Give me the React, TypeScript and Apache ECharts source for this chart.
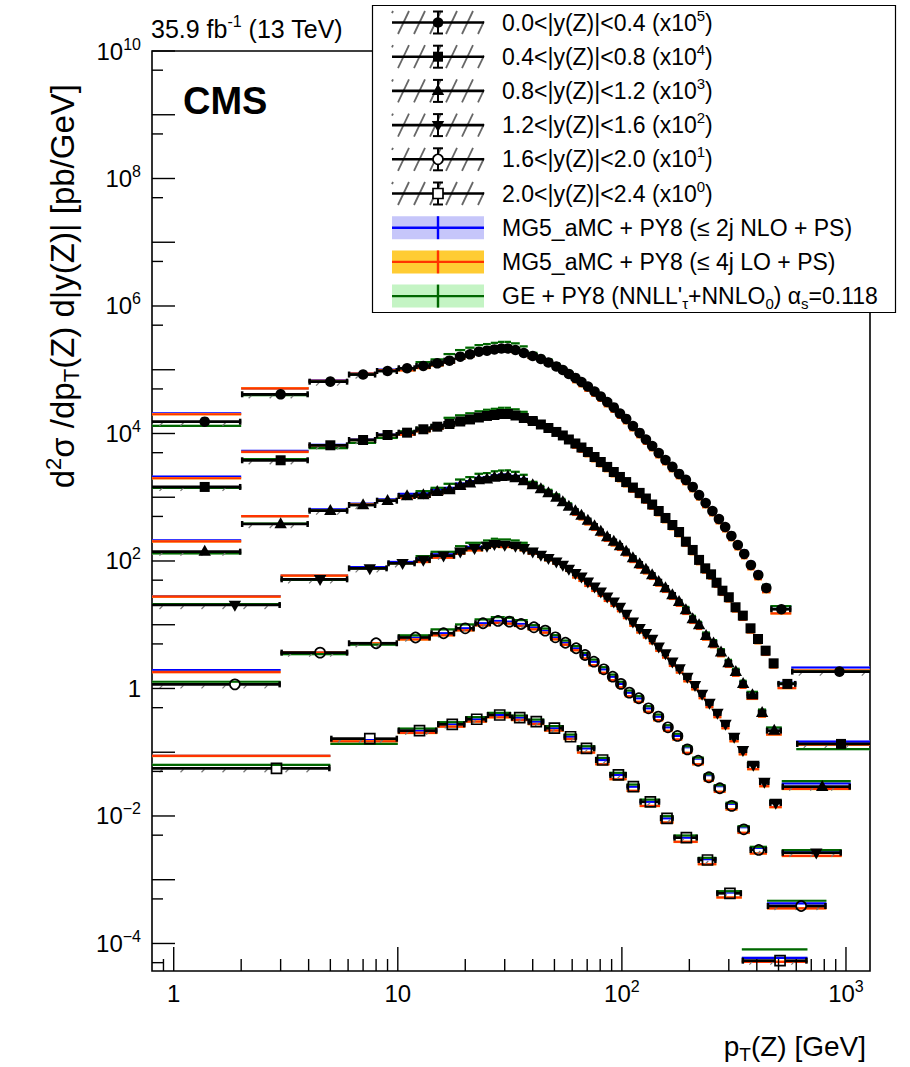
import { useEffect, useRef } from 'react';
import * as echarts from 'echarts';

const FONT = '"Liberation Sans", Arial, Helvetica, sans-serif';

// Axis ranges: p_T(Z) in GeV, cross section in pb/GeV
const PT_MIN = 0.8;
const PT_MAX = 1280;
const XS_MIN = 3.7e-5;
const XS_MAX = 1e10;

const RAPIDITY_BINS = [
  '0.0<|y(Z)|<0.4',
  '0.4<|y(Z)|<0.8',
  '0.8<|y(Z)|<1.2',
  '1.2<|y(Z)|<1.6',
  '1.6<|y(Z)|<2.0',
  '2.0<|y(Z)|<2.4',
];
// Each rapidity bin is multiplied by 10^k for display
const SCALE_EXPONENTS = [5, 4, 3, 2, 1, 0];
const MARKER_KINDS = ['circle', 'square', 'triangle', 'triangleDown', 'openCircle', 'openSquare'];

// Bin edges (GeV) and measured cross sections (pb/GeV) per rapidity bin
const PT_EDGES_Y1 = [0.75, 2, 4, 6, 8, 10, 12, 14, 16, 18, 20, 22, 24, 26, 28, 30, 32, 35, 38, 42, 45, 49, 53, 56, 60, 64, 68, 73, 78, 83, 89, 95, 101, 108, 116, 124, 132, 141, 151, 162, 174, 186, 200, 214, 228, 245, 262, 280, 298, 318, 340, 363, 390, 422, 460, 570, 1300];
const XSEC_Y1 = [0.153, 0.412, 0.650, 0.841, 0.955, 1.054, 1.146, 1.262, 1.387, 1.603, 1.746, 1.919, 1.991, 2.080, 2.153, 2.153, 2.042, 1.832, 1.644, 1.475, 1.300, 1.125, 0.991, 0.857, 0.743, 0.643, 0.546, 0.456, 0.380, 0.312, 0.256, 0.206, 0.169, 0.131, 0.102, 0.0805, 0.0637, 0.0494, 0.0384, 0.0299, 0.0232, 0.0187, 0.0145, 0.0108, 0.00813, 0.00608, 0.00456, 0.00341, 0.00247, 0.00178, 0.00129, 8.65e-4, 6.03e-4, 3.77e-4, 1.75e-4, 1.84e-5];

const PT_EDGES_Y2 = [0.75, 2, 4, 6, 8, 10, 12, 14, 16, 18, 20, 22, 24, 26, 28, 30, 32, 35, 38, 42, 45, 49, 53, 56, 60, 64, 68, 73, 78, 83, 89, 95, 101, 108, 116, 124, 132, 141, 151, 162, 174, 186, 200, 214, 228, 243, 257, 272, 290, 310, 333, 360, 390, 420, 456, 495, 600, 1300];
const XSEC_Y2 = [0.145, 0.380, 0.653, 0.791, 0.946, 1.030, 1.164, 1.279, 1.409, 1.542, 1.660, 1.782, 1.884, 1.950, 2.023, 2.023, 1.915, 1.750, 1.570, 1.384, 1.219, 1.057, 0.931, 0.805, 0.697, 0.603, 0.513, 0.428, 0.357, 0.299, 0.249, 0.208, 0.173, 0.142, 0.117, 0.0955, 0.0769, 0.0608, 0.0473, 0.0367, 0.0285, 0.0201, 0.0149, 0.0104, 0.00767, 0.00618, 0.00457, 0.00342, 0.00270, 0.00188, 0.00139, 8.79e-4, 5.97e-4, 3.92e-4, 2.48e-4, 1.18e-4, 1.35e-5];

const PT_EDGES_Y3 = [0.75, 2, 4, 6, 8, 10, 12, 14, 16, 18, 20, 22, 24, 26, 28, 30, 32, 35, 38, 42, 45, 49, 53, 56, 60, 64, 68, 73, 78, 83, 89, 95, 101, 108, 116, 124, 132, 141, 151, 162, 174, 186, 200, 214, 228, 247, 266, 288, 310, 335, 360, 405, 440, 517, 1050];
const XSEC_Y3 = [0.140, 0.380, 0.615, 0.755, 0.883, 1.047, 1.084, 1.222, 1.300, 1.517, 1.656, 1.866, 1.914, 2.042, 2.099, 2.113, 2.004, 1.799, 1.556, 1.346, 1.167, 0.991, 0.841, 0.716, 0.608, 0.518, 0.432, 0.354, 0.290, 0.238, 0.202, 0.172, 0.141, 0.111, 0.0897, 0.0736, 0.0603, 0.0473, 0.0377, 0.0293, 0.0228, 0.0170, 0.0123, 0.00991, 0.00673, 0.00512, 0.00370, 0.00251, 0.00182, 0.00118, 7.91e-4, 4.17e-4, 2.18e-4, 2.88e-5];

const PT_EDGES_Y4 = [0.75, 3, 6, 9, 12, 14, 18, 20, 24, 26, 28, 32, 35, 38, 42, 45, 49, 53, 56, 60, 64, 68, 73, 78, 83, 89, 95, 101, 108, 116, 124, 132, 141, 151, 162, 174, 188, 204, 220, 236, 256, 278, 302, 332, 362, 410, 455, 517, 957];
const XSEC_Y4 = [0.204, 0.516, 0.767, 0.920, 1.038, 1.211, 1.400, 1.581, 1.718, 1.828, 1.782, 1.718, 1.581, 1.400, 1.242, 1.102, 0.975, 0.865, 0.750, 0.641, 0.568, 0.473, 0.395, 0.330, 0.275, 0.230, 0.190, 0.148, 0.112, 0.0879, 0.0734, 0.0597, 0.0453, 0.0356, 0.0263, 0.0207, 0.0151, 0.0113, 0.00820, 0.00593, 0.00413, 0.00277, 0.00173, 0.00108, 6.31e-4, 3.41e-4, 1.60e-4, 2.65e-5];

const PT_EDGES_Y5 = [0.75, 3, 6, 10, 14, 18, 22, 26, 30, 33, 38, 43, 48, 53, 59, 66, 71, 79, 87, 95, 103, 113, 125, 138, 153, 168, 186, 206, 232, 257, 290, 328, 372, 444, 818];
const XSEC_Y5 = [0.116, 0.365, 0.512, 0.631, 0.735, 0.879, 1.054, 1.146, 1.117, 1.028, 0.912, 0.807, 0.635, 0.522, 0.428, 0.335, 0.263, 0.200, 0.153, 0.118, 0.0859, 0.0702, 0.0489, 0.0361, 0.0246, 0.0180, 0.0111, 0.00736, 0.00405, 0.00272, 0.00144, 6.18e-4, 2.93e-4, 3.87e-5];

const PT_EDGES_Y6 = [0.75, 5, 10, 15, 20, 25, 32, 38, 45, 55, 63, 76, 88, 105, 120, 148, 170, 218, 264, 343, 673];
const XSEC_Y6 = [0.0560, 0.163, 0.218, 0.274, 0.329, 0.384, 0.348, 0.301, 0.238, 0.175, 0.115, 0.0755, 0.0440, 0.0288, 0.0167, 0.00920, 0.00457, 0.00204, 6.12e-4, 5.37e-5];

const PT_EDGES = [PT_EDGES_Y1, PT_EDGES_Y2, PT_EDGES_Y3, PT_EDGES_Y4, PT_EDGES_Y5, PT_EDGES_Y6];
const XSEC = [XSEC_Y1, XSEC_Y2, XSEC_Y3, XSEC_Y4, XSEC_Y5, XSEC_Y6];

// Prediction / data ratios, as [from p_T, ratio] steps, per rapidity bin
const NLO_RATIO = [
  [[0, 1.35], [2, 1.24], [4, 1.05], [10, 1.0], [60, 0.97], [186, 1.05], [340, 1.12], [570, 1.16]],
  [[0, 1.45], [2, 1.4], [4, 1.02], [10, 1.0], [60, 0.97], [186, 1.04], [600, 1.09]],
  [[0, 1.5], [2, 1.33], [4, 1.05], [10, 1.08], [60, 1.02], [186, 1.1], [517, 1.13]],
  [[0, 1.38], [3, 1.14], [6, 1.05], [12, 1.05], [60, 1.02], [188, 1.1], [517, 1.03]],
  [[0, 1.68], [3, 1.0], [10, 1.0], [60, 1.0], [186, 1.08], [444, 1.1]],
  [[0, 1.56], [5, 0.95], [10, 1.0], [218, 1.03], [343, 1.11]],
];
const LO_RATIO = [
  [[0, 1.31], [2, 1.24], [4, 1.03], [10, 0.93], [60, 0.86], [570, 1.04]],
  [[0, 1.37], [2, 1.35], [4, 1.0], [10, 0.93], [60, 0.86], [600, 0.97]],
  [[0, 1.45], [2, 1.33], [4, 1.02], [10, 0.94], [60, 0.87], [517, 0.92]],
  [[0, 1.35], [3, 1.14], [6, 1.0], [12, 0.93], [60, 0.86], [517, 0.89]],
  [[0, 1.56], [3, 1.0], [10, 0.93], [60, 0.88], [444, 0.92]],
  [[0, 1.56], [5, 0.91], [10, 0.92], [63, 0.86], [343, 0.96]],
];
const GE_RATIO = [
  [[0, 0.86], [2, 0.97], [4, 1.0], [12, 1.15], [16, 1.27], [38, 1.12], [60, 1.03], [422, 1.12], [570, 1.0]],
  [[0, 0.97], [2, 1.04], [4, 0.9], [10, 1.05], [16, 1.25], [38, 1.12], [60, 1.02], [600, 0.83]],
  [[0, 0.94], [2, 1.02], [4, 1.0], [12, 1.15], [16, 1.25], [38, 1.12], [60, 1.05], [186, 1.12], [517, 1.22]],
  [[0, 1.03], [3, 0.98], [6, 1.0], [12, 1.15], [18, 1.22], [38, 1.1], [60, 1.05], [188, 1.1], [517, 1.1]],
  [[0, 1.1], [3, 0.95], [10, 1.08], [14, 1.15], [38, 1.08], [186, 1.12], [444, 1.21]],
  [[0, 1.13], [5, 0.83], [10, 1.08], [343, 1.5]],
];

const MODELS = [
  { label: 'MG5_aMC + PY8 (≤ 2j NLO + PS)', line: '#0000ff', band: '#c6c6fa', half: 0.035, ratios: NLO_RATIO },
  { label: 'MG5_aMC + PY8 (≤ 4j LO + PS)', line: '#ff3300', band: '#ffcc33', half: 0.045, ratios: LO_RATIO },
  { label: "GE + PY8 (NNLL'{sub|τ}+NNLO{sub|0}) α{sub|s}=0.118", line: '#006600', band: '#c4f4c4', half: 0.04, ratios: GE_RATIO },
];

// Axis ticks
const X_MAJOR_TICKS = [1, 10, 100, 1000];
const X_TICK_LABELS = ['1', '10', '10{sup|2}', '10{sup|3}'];
const X_MINOR_TICKS = [0.9, 2, 3, 4, 5, 6, 7, 8, 9, 20, 30, 40, 50, 60, 70, 80, 90, 200, 300, 400, 500, 600, 700, 800, 900];
const Y_MAJOR_TICKS = [1e-4, 1e-3, 1e-2, 1e-1, 1, 1e1, 1e2, 1e3, 1e4, 1e5, 1e6, 1e7, 1e8, 1e9, 1e10];
const Y_MINOR_TICKS = [5e-5, 5e-4, 5e-3, 5e-2, 0.5, 5, 50, 5e2, 5e3, 5e4, 5e5, 5e6, 5e7, 5e8, 5e9];
const Y_LABEL_VALUES = [1e10, 1e8, 1e6, 1e4, 1e2, 1, 1e-2, 1e-4];
const Y_TICK_LABELS = ['10{sup|10}', '10{sup|8}', '10{sup|6}', '10{sup|4}', '10{sup|2}', '1', '10{sup|−2}', '10{sup|−4}'];

function ratioFor(table: number[][], lo: number) {
  let r = table[0][1];
  for (const [from, val] of table) if (lo >= from) r = val;
  return r;
}

function dataRows(i: number) {
  const edges = PT_EDGES[i];
  const k = Math.pow(10, SCALE_EXPONENTS[i]);
  return XSEC[i].map((v, j) => [edges[j], edges[j + 1], (edges[j] + edges[j + 1]) / 2, v * k]);
}

function predRows(i: number, tables: number[][][]) {
  const edges = PT_EDGES[i];
  const k = Math.pow(10, SCALE_EXPONENTS[i]);
  return XSEC[i].map((v, j) => [edges[j], edges[j + 1], v * k * ratioFor(tables[i], edges[j])]);
}

const MARKER_R = 5.3;

function markerEl(kind: string, x: number, y: number): any {
  const s = MARKER_R;
  switch (kind) {
    case 'circle':
      return { type: 'circle', shape: { cx: x, cy: y, r: s }, style: { fill: '#000' } };
    case 'square':
      return { type: 'rect', shape: { x: x - 5, y: y - 5, width: 10, height: 10 }, style: { fill: '#000' } };
    case 'triangle':
      return { type: 'polygon', shape: { points: [[x, y - 6.8], [x + 6.2, y + 4.2], [x - 6.2, y + 4.2]] }, style: { fill: '#000' } };
    case 'triangleDown':
      return { type: 'polygon', shape: { points: [[x, y + 6.8], [x + 6.2, y - 4.2], [x - 6.2, y - 4.2]] }, style: { fill: '#000' } };
    case 'openCircle':
      return { type: 'circle', shape: { cx: x, cy: y, r: 5 }, style: { fill: 'none', stroke: '#000', lineWidth: 1.7 } };
    default:
      return { type: 'rect', shape: { x: x - 5, y: y - 5, width: 10, height: 10 }, style: { fill: 'none', stroke: '#000', lineWidth: 1.7 } };
  }
}

function hline(x1: number, x2: number, y: number, stroke: string, lineWidth: number): any {
  return { type: 'line', shape: { x1, y1: y, x2, y2: y }, style: { stroke, lineWidth } };
}
function vline(x: number, y1: number, y2: number, stroke: string, lineWidth: number): any {
  return { type: 'line', shape: { x1: x, y1, x2: x, y2 }, style: { stroke, lineWidth } };
}

function dataRenderer(kind: string) {
  return (params: any, api: any) => {
    const cs = params.coordSys;
    const lo = api.value(0), hi = api.value(1), c = api.value(2), v = api.value(3);
    const pa = api.coord([lo, v]);
    const pb = api.coord([hi, v]);
    const pc = api.coord([c, v]);
    const y = pa[1];
    const left = cs.x, right = cs.x + cs.width;
    const x0 = Math.max(pa[0], left), x1 = Math.min(pb[0], right);
    const children: any[] = [];
    // hatched uncertainty marks along the bin
    for (let hx = x0 + 9; hx < x1 - 4; hx += 21) {
      children.push({ type: 'line', shape: { x1: hx - 1.5, y1: y + 4, x2: hx + 1.5, y2: y + 1 }, style: { stroke: '#777', lineWidth: 1.2 } });
    }
    const open = kind.startsWith('open');
    const r = 5;
    if (open) {
      if (pc[0] - r > x0) children.push(hline(x0, pc[0] - r, y, '#000', 2.7));
      if (x1 > pc[0] + r) children.push(hline(pc[0] + r, x1, y, '#000', 2.7));
    } else {
      children.push(hline(x0, x1, y, '#000', 2.7));
    }
    if (pa[0] >= left) children.push(vline(pa[0] + 1, y - 3, y + 3, '#000', 2.5));
    if (pb[0] <= right) children.push(vline(pb[0] - 1, y - 3, y + 3, '#000', 2.5));
    children.push(markerEl(kind, pc[0], y));
    return { type: 'group', children };
  };
}

function predRenderer(line: string, band: string, half: number) {
  return (params: any, api: any) => {
    const cs = params.coordSys;
    const lo = api.value(0), hi = api.value(1), v = api.value(2);
    const pa = api.coord([lo, v]);
    const pb = api.coord([hi, v]);
    const x0 = Math.max(pa[0], cs.x), x1 = Math.min(pb[0], cs.x + cs.width);
    const yt = api.coord([lo, v * (1 + half)])[1];
    const yb = api.coord([lo, v * (1 - half)])[1];
    return {
      type: 'group',
      children: [
        { type: 'rect', shape: { x: x0, y: yt, width: x1 - x0, height: yb - yt }, style: { fill: band } },
        hline(x0, x1, pa[1], line, 2.2),
      ],
    };
  };
}

const SUP24 = { fontSize: 16, lineHeight: 16, verticalAlign: 'top', fontFamily: FONT, fill: '#000' };
const SUP23 = { fontSize: 15, lineHeight: 15, verticalAlign: 'top', fontFamily: FONT, fill: '#000' };
const SUB23 = { fontSize: 15, lineHeight: 15, verticalAlign: 'bottom', fontFamily: FONT, fill: '#000' };
const SUP28 = { fontSize: 19, lineHeight: 19, verticalAlign: 'top', fontFamily: FONT, fill: '#000' };
const SUB28 = { fontSize: 19, lineHeight: 19, verticalAlign: 'bottom', fontFamily: FONT, fill: '#000' };
const SUP33 = { fontSize: 22, lineHeight: 22, verticalAlign: 'top', fontFamily: FONT, fill: '#000' };
const SUB33 = { fontSize: 22, lineHeight: 22, verticalAlign: 'bottom', fontFamily: FONT, fill: '#000' };

function textStyle(text: string, size: number, lh: number, align: string, rich: any, weight = 'normal') {
  return {
    text,
    fontSize: size,
    fontFamily: FONT,
    fontWeight: weight,
    lineHeight: lh,
    fill: '#000',
    align,
    textAlign: align,
    verticalAlign: 'middle',
    textVerticalAlign: 'middle',
    rich,
  };
}

function tickSeries(data: number[][], render: (params: any, api: any) => any) {
  return {
    type: 'custom',
    coordinateSystem: 'cartesian2d',
    data,
    encode: { x: 0, y: 1 },
    renderItem: render,
    silent: true,
    z: 6,
  };
}

// Legend layout
const LEG_X = 372.5, LEG_Y = 5.5, LEG_W = 523, LEG_H = 307;
const ROW_Y0 = 22.5, ROW_STEP = 34.2;
const SYM_X0 = 392, SYM_X1 = 484, SYM_XC = 438, TEXT_X = 502;

function legendElements() {
  const els: any[] = [];
  els.push({ type: 'rect', shape: { x: LEG_X, y: LEG_Y, width: LEG_W, height: LEG_H }, style: { fill: '#fff', stroke: '#000', lineWidth: 1.2 }, z: 100 });
  RAPIDITY_BINS.forEach((name, i) => {
    const yc = ROW_Y0 + i * ROW_STEP;
    // hatching
    for (let x = SYM_X0 - 10; x < SYM_X1; x += 16) {
      let xa = x, ya = yc + 11.5, xb = x + 11, yb = yc - 11.5;
      if (xa < SYM_X0) { const t = (SYM_X0 - x) / 11; xa = SYM_X0; ya = yc + 11.5 - 23 * t; }
      if (xb > SYM_X1) { const t = (SYM_X1 - x) / 11; xb = SYM_X1; yb = yc + 11.5 - 23 * t; }
      if (xb > xa) els.push({ type: 'line', shape: { x1: xa, y1: ya, x2: xb, y2: yb }, style: { stroke: '#666', lineWidth: 1.8 }, z: 101 });
    }
    els.push({ type: 'line', shape: { x1: SYM_X0, y1: yc, x2: SYM_X1, y2: yc }, style: { stroke: '#000', lineWidth: 2.6 }, z: 102 });
    els.push({ type: 'line', shape: { x1: SYM_XC, y1: yc - 11, x2: SYM_XC, y2: yc + 11 }, style: { stroke: '#000', lineWidth: 2 }, z: 102 });
    els.push({ type: 'line', shape: { x1: SYM_XC - 5, y1: yc - 11, x2: SYM_XC + 5, y2: yc - 11 }, style: { stroke: '#000', lineWidth: 2 }, z: 102 });
    els.push({ type: 'line', shape: { x1: SYM_XC - 5, y1: yc + 11, x2: SYM_XC + 5, y2: yc + 11 }, style: { stroke: '#000', lineWidth: 2 }, z: 102 });
    const m = markerEl(MARKER_KINDS[i], SYM_XC, yc);
    if (MARKER_KINDS[i].startsWith('open')) m.style.fill = '#fff';
    els.push({ ...m, z: 103 });
    els.push({ type: 'text', x: TEXT_X, y: yc, style: textStyle(`${name} (x10{sup|${SCALE_EXPONENTS[i]}})`, 23, 30, 'left', { sup: SUP23 }), z: 103 });
  });
  MODELS.forEach((mdl, j) => {
    const yc = ROW_Y0 + (RAPIDITY_BINS.length + j) * ROW_STEP;
    els.push({ type: 'rect', shape: { x: SYM_X0, y: yc - 11.5, width: SYM_X1 - SYM_X0, height: 23 }, style: { fill: mdl.band }, z: 101 });
    els.push({ type: 'line', shape: { x1: SYM_X0, y1: yc, x2: SYM_X1, y2: yc }, style: { stroke: mdl.line, lineWidth: 2.4 }, z: 102 });
    els.push({ type: 'line', shape: { x1: SYM_XC, y1: yc - 11.5, x2: SYM_XC, y2: yc + 11.5 }, style: { stroke: mdl.line, lineWidth: 2.4 }, z: 102 });
    els.push({ type: 'text', x: TEXT_X, y: yc, style: textStyle(mdl.label, 23, 30, 'left', { sub: SUB23, sup: SUP23 }), z: 103 });
  });
  return els;
}

function buildOption(): any {
  const series: any[] = [];
  MODELS.forEach((mdl) => {
    RAPIDITY_BINS.forEach((_, i) => {
      series.push({
        type: 'custom',
        name: mdl.label,
        coordinateSystem: 'cartesian2d',
        data: predRows(i, mdl.ratios),
        encode: { x: 0, y: 2 },
        renderItem: predRenderer(mdl.line, mdl.band, mdl.half),
        silent: true,
        z: 2,
      });
    });
  });
  RAPIDITY_BINS.forEach((name, i) => {
    series.push({
      type: 'custom',
      name,
      coordinateSystem: 'cartesian2d',
      data: dataRows(i),
      encode: { x: 0, y: 3 },
      renderItem: dataRenderer(MARKER_KINDS[i]),
      silent: true,
      z: 3,
    });
  });

  series.push(tickSeries(X_MAJOR_TICKS.map((v) => [v, XS_MIN]), (params: any, api: any) => {
    const p = api.coord([api.value(0), XS_MIN]);
    return {
      type: 'group',
      children: [
        vline(p[0], p[1], p[1] - 24, '#000', 1.4),
        { type: 'text', style: { ...textStyle(X_TICK_LABELS[params.dataIndex], 24, 30, 'center', { sup: SUP24 }), x: p[0], y: p[1] + 22 } },
      ],
    };
  }));
  series.push(tickSeries(X_MINOR_TICKS.map((v) => [v, XS_MIN]), (params: any, api: any) => {
    const p = api.coord([api.value(0), XS_MIN]);
    return vline(p[0], p[1], p[1] - 12, '#000', 1.4);
  }));
  series.push(tickSeries(Y_MAJOR_TICKS.map((v) => [PT_MIN, v]), (params: any, api: any) => {
    const p = api.coord([PT_MIN, api.value(1)]);
    return hline(p[0], p[0] + 23, p[1], '#000', 1.4);
  }));
  series.push(tickSeries(Y_MINOR_TICKS.map((v) => [PT_MIN, v]), (params: any, api: any) => {
    const p = api.coord([PT_MIN, api.value(1)]);
    return hline(p[0], p[0] + 11, p[1], '#000', 1.4);
  }));
  series.push(tickSeries(Y_LABEL_VALUES.map((v) => [PT_MIN, v]), (params: any, api: any) => {
    const p = api.coord([PT_MIN, api.value(1)]);
    return { type: 'text', style: { ...textStyle(Y_TICK_LABELS[params.dataIndex], 24, 30, 'right', { sup: SUP24 }), x: p[0] - 11, y: p[1] } };
  }));

  const graphics: any[] = [
    { type: 'text', x: 151, y: 29, style: textStyle('35.9 fb{sup|-1} (13 TeV)', 25, 32, 'left', { sup: { ...SUP23, fontSize: 16, lineHeight: 16 } }), z: 90 },
    { type: 'text', x: 183, y: 101, style: textStyle('CMS', 38, 44, 'left', {}, 'bold'), z: 90 },
    { type: 'text', x: 866, y: 1046, style: textStyle('p{sub|T}(Z) [GeV]', 28, 36, 'right', { sub: SUB28 }), z: 90 },
    { type: 'text', x: 62, y: 84, rotation: Math.PI / 2, style: textStyle('d{sup|2}σ /dp{sub|T}(Z) d|y(Z)| [pb/GeV]', 33, 40, 'right', { sup: SUP33, sub: SUB33 }), z: 90 },
    ...legendElements(),
  ];

  return {
    animation: false,
    backgroundColor: '#fff',
    grid: { left: 152, right: 40, top: 51, bottom: 96, show: true, borderColor: '#000', borderWidth: 1.6, backgroundColor: 'transparent' },
    xAxis: {
      type: 'log', logBase: 10, min: PT_MIN, max: PT_MAX,
      axisLine: { show: false }, axisTick: { show: false }, axisLabel: { show: false }, splitLine: { show: false }, minorTick: { show: false },
    },
    yAxis: {
      type: 'log', logBase: 10, min: XS_MIN, max: XS_MAX,
      axisLine: { show: false }, axisTick: { show: false }, axisLabel: { show: false }, splitLine: { show: false }, minorTick: { show: false },
    },
    series,
    graphic: { elements: graphics },
  };
}

export default function App() {
  const ref = useRef<HTMLDivElement>(null);
  useEffect(() => {
    if (!ref.current) return;
    const chart = echarts.init(ref.current, null, { renderer: 'svg' });
    chart.setOption(buildOption());
    return () => chart.dispose();
  }, []);
  return <div ref={ref} style={{ position: 'fixed', left: 0, top: 0, width: 910, height: 1067, background: '#fff' }} />;
}
